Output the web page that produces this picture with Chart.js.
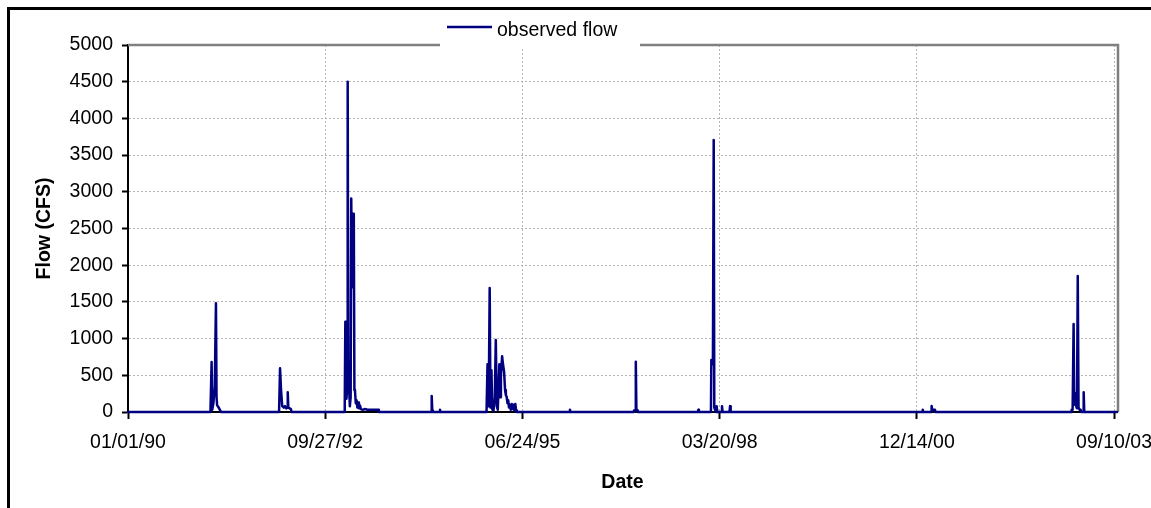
<!DOCTYPE html>
<html>
<head>
<meta charset="utf-8">
<title>Observed flow</title>
<script src="https://cdn.jsdelivr.net/npm/chart.js@4.4.1/dist/chart.umd.min.js"></script>
<style>
    html, body { margin: 0; padding: 0; background: #fff; overflow: hidden; }
    #frame { position: absolute; left: 7px; top: 7px; width: 1200px; height: 600px; border: 3px solid #000; }
    #wrap { position: absolute; left: 0; top: 0; width: 1151px; height: 508px; }
</style>
</head>
<body>
<div id="frame"></div>
<div id="wrap"><canvas id="flowChart" width="1151" height="508"></canvas></div>
<script>
// observed daily flow, only the days around each event (flow is 0 in between)
const flowDates = [
    '1990-01-01',
    '1991-02-23', '1991-03-01', '1991-03-04', '1991-03-10', '1991-03-17', '1991-03-23', '1991-03-26', '1991-03-29', '1991-04-06', '1991-04-12', '1991-04-18',
    '1992-02-06', '1992-02-11', '1992-02-16', '1992-02-22', '1992-03-01', '1992-03-07', '1992-03-14', '1992-03-19', '1992-03-21', '1992-03-24', '1992-03-31', '1992-04-06', '1992-04-10',
    '1993-01-01', '1993-01-04', '1993-01-07', '1993-01-10', '1993-01-13', '1993-01-16', '1993-01-19', '1993-01-22', '1993-01-26', '1993-01-30',
    '1993-02-03', '1993-02-06', '1993-02-10', '1993-02-13', '1993-02-16', '1993-02-19', '1993-02-22', '1993-02-25',
    '1993-03-01', '1993-03-05', '1993-03-09', '1993-03-13', '1993-03-17', '1993-03-22', '1993-03-27', '1993-04-05', '1993-04-15', '1993-04-30', '1993-05-15', '1993-06-04', '1993-06-22', '1993-06-26',
    '1994-03-18', '1994-03-21', '1994-03-24', '1994-03-27', '1994-04-30', '1994-05-02', '1994-05-05',
    '1994-12-24', '1994-12-29', '1995-01-01', '1995-01-04', '1995-01-09', '1995-01-13', '1995-01-18', '1995-01-22', '1995-01-28',
    '1995-02-04', '1995-02-09', '1995-02-14', '1995-02-19', '1995-02-24', '1995-02-27', '1995-03-03', '1995-03-07', '1995-03-13', '1995-03-18', '1995-03-23', '1995-03-28',
    '1995-04-01', '1995-04-05', '1995-04-09', '1995-04-13', '1995-04-17', '1995-04-22', '1995-04-26', '1995-05-01', '1995-05-05', '1995-05-10', '1995-05-14', '1995-05-19', '1995-05-23', '1995-05-27',
    '1996-02-17', '1996-02-20', '1996-02-23',
    '1997-01-08', '1997-01-10', '1997-01-16', '1997-01-19', '1997-01-22', '1997-01-26', '1997-01-29',
    '1997-11-29', '1997-12-02', '1997-12-05',
    '1998-02-04', '1998-02-06', '1998-02-10', '1998-02-14', '1998-02-18', '1998-02-21', '1998-02-25', '1998-03-02', '1998-03-05', '1998-03-08',
    '1998-03-30', '1998-04-01', '1998-04-04', '1998-05-09', '1998-05-12', '1998-05-15',
    '2001-01-10', '2001-01-13', '2001-01-16', '2001-02-24', '2001-02-27', '2001-03-02', '2001-03-16', '2001-03-19',
    '2003-02-04', '2003-02-07', '2003-02-12', '2003-02-17', '2003-02-20', '2003-02-25', '2003-03-02', '2003-03-06', '2003-03-10', '2003-03-14',
    '2003-03-19', '2003-03-25', '2003-03-28', '2003-04-06', '2003-04-09', '2003-04-12', '2003-09-25'
];

const flowCfs = [
    0,
    0, 680, 30, 120, 350, 1480, 200, 90, 60, 30, 0,
    0, 595, 300, 80, 60, 80, 50, 60, 268, 60, 50, 40, 0,
    0, 60, 1230, 250, 180, 330, 4500, 300, 330, 80,
    200, 2910, 1700, 2700, 1800, 2700, 300, 290,
    120, 160, 60, 130, 50, 90, 40, 30, 40, 30, 30, 30, 30, 0,
    0, 218, 20, 0, 0, 30, 0,
    0, 650, 580, 80, 1690, 60, 570, 40, 10,
    200, 980, 80, 30, 400, 650, 200, 500, 760, 640, 550, 300,
    230, 210, 120, 160, 60, 100, 30, 110, 40, 100, 20, 110, 20, 0,
    0, 30, 0,
    0, 20, 25, 685, 25, 20, 0,
    0, 30, 0,
    0, 708, 650, 700, 3705, 60, 30, 0, 80, 0,
    0, 80, 0, 0, 80, 0,
    0, 30, 0, 0, 82, 30, 30, 0,
    0, 30, 30, 1199, 100, 260, 80, 50, 1852, 60,
    30, 30, 0, 0, 268, 0, 0
];

const xTickDates = ['1990-01-01', '1992-09-27', '1995-06-24', '1998-03-20', '2000-12-14', '2003-09-10'];
const xEndDate = '2003-09-25';
const yTicks = [0, 500, 1000, 1500, 2000, 2500, 3000, 3500, 4000, 4500, 5000];

const DAY_MS = 86400000;
const ORIGIN = Date.parse('1990-01-01');
const dayOf = s => (Date.parse(s) - ORIGIN) / DAY_MS;

function fmtDate(day) {
    const d = new Date(ORIGIN + day * DAY_MS);
    const p = n => String(n).padStart(2, '0');
    return p(d.getUTCMonth() + 1) + '/' + p(d.getUTCDate()) + '/' + p(d.getUTCFullYear() % 100);
}

const FONT = "'Liberation Sans', Arial, sans-serif";
const GRID = '#b4b4b4';

// plot frame (grey top/right edges) and the legend sitting on the top edge
const framePlugin = {
    id: 'frame',
    beforeDatasetsDraw(chart) {
        const {ctx, chartArea: a} = chart;
        ctx.save();
        ctx.strokeStyle = '#808080';
        ctx.lineWidth = 2.5;
        ctx.beginPath();
        ctx.moveTo(a.left, a.top);
        ctx.lineTo(a.right + 1, a.top);
        ctx.lineTo(a.right + 1, a.bottom);
        ctx.stroke();
        ctx.restore();
    },
    afterDraw(chart) {
        const {ctx, chartArea: a} = chart;
        const ds = chart.data.datasets[0];
        const x0 = a.left + 312;
        ctx.save();
        ctx.fillStyle = '#fff';
        ctx.fillRect(x0, a.top - 32, 200, 34);
        ctx.strokeStyle = ds.borderColor;
        ctx.lineWidth = 2.5;
        ctx.beginPath();
        ctx.moveTo(x0 + 7, a.top - 18);
        ctx.lineTo(x0 + 52, a.top - 18);
        ctx.stroke();
        ctx.fillStyle = '#000';
        ctx.font = '19.5px ' + FONT;
        ctx.textBaseline = 'alphabetic';
        ctx.fillText(ds.label, x0 + 57, a.top - 9.5);
        ctx.restore();
    }
};

const ctx = document.getElementById('flowChart');

new Chart(ctx, {
    type: 'line',
    data: {
        datasets: [{
            label: 'observed flow',
            data: flowDates.map((d, i) => ({ x: dayOf(d), y: flowCfs[i] })),
            borderColor: '#000080',
            borderWidth: 2.5,
            borderJoinStyle: 'round',
            borderCapStyle: 'round',
            pointRadius: 0,
            tension: 0,
            fill: false,
            clip: false
        }]
    },
    options: {
        responsive: false,
        animation: false,
        layout: { padding: { top: 45, right: 34, left: 0, bottom: 0 } },
        plugins: { legend: { display: false }, tooltip: { enabled: false } },
        scales: {
            x: {
                type: 'linear',
                min: 0,
                max: dayOf(xEndDate),
                afterBuildTicks: s => { s.ticks = xTickDates.map(d => ({ value: dayOf(d) })); },
                afterFit: s => { s.height = 96; s.paddingLeft = 0; s.paddingRight = 0; },
                grid: { color: GRID, lineWidth: 1, tickColor: '#000', tickLength: 7, tickWidth: 2 },
                border: { color: '#000', width: 2, dash: [2, 2] },
                ticks: {
                    callback: v => fmtDate(v),
                    color: '#000',
                    font: { family: FONT, size: 19.5 },
                    padding: 12,
                    maxRotation: 0,
                    autoSkip: false
                },
                title: {
                    display: true,
                    text: 'Date',
                    color: '#000',
                    font: { family: FONT, size: 19.5, weight: 'bold' },
                    padding: { top: 0, bottom: 14 }
                }
            },
            y: {
                min: 0,
                max: 5000,
                afterBuildTicks: s => { s.ticks = yTicks.map(v => ({ value: v })); },
                afterFit: s => { s.width = 128; },
                grid: { color: GRID, lineWidth: 1, tickColor: '#000', tickLength: 6, tickWidth: 2 },
                border: { color: '#000', width: 2, dash: [2, 2] },
                ticks: {
                    callback: v => String(v),
                    color: '#000',
                    font: { family: FONT, size: 19.5 },
                    padding: 9
                },
                title: {
                    display: true,
                    text: 'Flow (CFS)',
                    color: '#000',
                    font: { family: FONT, size: 19.5, weight: 'bold' },
                    padding: { top: 33, bottom: 0 }
                }
            }
        }
    },
    plugins: [framePlugin]
});
</script>
</body>
</html>
